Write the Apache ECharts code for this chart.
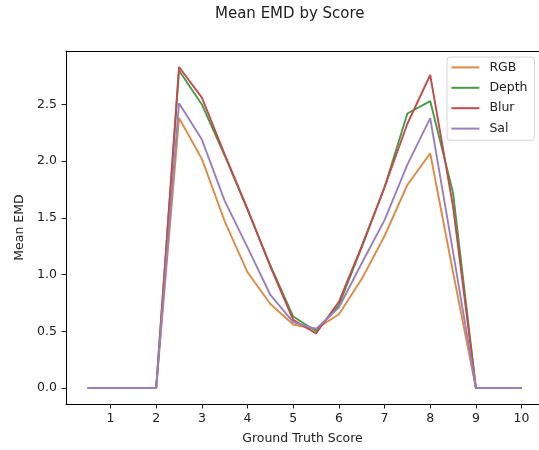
<!DOCTYPE html>
<html>
<head>
<meta charset="utf-8">
<script src="https://cdn.jsdelivr.net/npm/echarts@6/dist/echarts.min.js"></script>
<style>html,body{margin:0;padding:0;background:#fff;}#c{width:539px;height:450px;}</style>
</head>
<body>
<div id="c"></div>
<script>
const scores = [0.5,1,1.5,2,2.5,3,3.5,4,4.5,5,5.5,6,6.5,7,7.5,8,8.5,9,9.5,10];
const rgb   = [0,0,0,0,2.38,2.02,1.47,1.02,0.74,0.56,0.52,0.65,0.96,1.34,1.79,2.07,1.02,0,0,0];
const depth = [0,0,0,0,2.80,2.50,2.05,1.57,1.08,0.63,0.50,0.73,1.24,1.77,2.42,2.53,1.72,0,0,0];
const blur  = [0,0,0,0,2.83,2.56,2.06,1.58,1.07,0.60,0.48,0.76,1.25,1.77,2.33,2.76,1.60,0,0,0];
const sal   = [0,0,0,0,2.51,2.19,1.65,1.24,0.82,0.58,0.52,0.71,1.10,1.48,1.97,2.38,1.20,0,0,0];
const xTicks = [1,2,3,4,5,6,7,8,9,10];
const yTicks = [0,0.5,1.0,1.5,2.0,2.5];
const seriesNames = ['RGB','Depth','Blur','Sal'];
const seriesColors = ['#dd8a45','#469a46','#c24b4b','#9880bd'];

const FONT = 'DejaVu Sans';
const chart = echarts.init(document.getElementById('c'), null, {renderer:'canvas'});
const pair = arr => scores.map((s,i)=>[s,arr[i]]);
const dataSets = [rgb, depth, blur, sal];
const XMIN = 0.025, XMAX = 10.382;

chart.setOption({
  animation:false,
  backgroundColor:'#fff',
  title:{text:'Mean EMD by Score', left:210, top:2,
    textStyle:{fontFamily:FONT, fontSize:15, fontWeight:'normal', color:'#222'}},
  grid:{left:66, top:51, right:0, height:356, show:false},
  legend:{
    data:seriesNames, orient:'vertical', left:447, top:57,
    backgroundColor:'#fff', borderColor:'#d6d6d6', borderWidth:1, borderRadius:3,
    padding:[2.9,7,4.2,4.4], itemGap:5.4, itemWidth:28, itemHeight:2, icon:'rect',
    textStyle:{fontFamily:FONT, fontSize:12.5, color:'#222', lineHeight:15, padding:[0,0,0,5]}
  },
  xAxis:[{type:'value', min:XMIN, max:XMAX, position:'bottom',
    name:'Ground Truth Score', nameLocation:'middle', nameGap:28,
    nameTextStyle:{fontFamily:FONT, fontSize:12.5, color:'#222'},
    axisLine:{show:true, onZero:false, lineStyle:{color:'#000', width:1}},
    axisTick:{show:true, length:4.5, customValues:xTicks, lineStyle:{color:'#222'}},
    axisLabel:{customValues:xTicks, margin:8, fontFamily:FONT, fontSize:12.5, color:'#222'},
    splitLine:{show:false}},
   {type:'value', min:XMIN, max:XMAX, position:'top',
    axisLine:{show:true, onZero:false, lineStyle:{color:'#000', width:1}},
    axisTick:{show:false}, axisLabel:{show:false}, splitLine:{show:false}}],
  yAxis:{type:'value', min:-0.1415, max:2.9715,
    name:'Mean EMD', nameLocation:'middle', nameGap:35, nameRotate:90,
    nameTextStyle:{fontFamily:FONT, fontSize:12.5, color:'#222'},
    axisLine:{show:true, onZero:false, lineStyle:{color:'#000', width:1}},
    axisTick:{show:true, length:4.5, customValues:yTicks, lineStyle:{color:'#222'}},
    axisLabel:{customValues:yTicks, margin:9, fontFamily:FONT, fontSize:12.5, color:'#222',
      formatter:v=>v.toFixed(1)},
    splitLine:{show:false}},
  series: seriesNames.map((n,i)=>({
    name:n, type:'line', xAxisIndex:0, data:pair(dataSets[i]), showSymbol:false, symbol:'none',
    lineStyle:{color:seriesColors[i], width:1.9}, itemStyle:{color:seriesColors[i]},
    clip:true
  }))
});
</script>
</body>
</html>
